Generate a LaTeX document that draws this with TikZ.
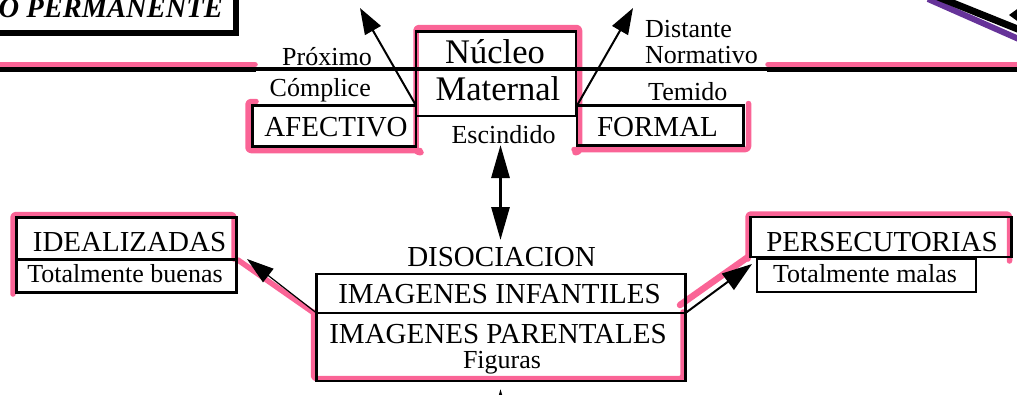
\documentclass[tikz,border=0pt]{standalone}
\usepackage{fontspec}
\setmainfont{Liberation Serif}
\usetikzlibrary{arrows.meta}
\definecolor{pinkhl}{RGB}{250,100,150}
\definecolor{purp}{RGB}{102,51,153}
\begin{document}
\begin{tikzpicture}[x=1pt,y=-1pt,
  box/.style={draw, line width=2.8pt, inner sep=0pt, outer sep=0pt},
  hl/.style={draw=pinkhl, line width=5.5pt, line cap=round, line join=round, rounded corners=3pt},
  lbl/.style={inner sep=0pt, anchor=base},
  fbig/.style={font=\fontsize{29}{30}\selectfont},
  fsmall/.style={font=\fontsize{26}{27}\selectfont},
  fhuge/.style={font=\fontsize{34.5}{36}\selectfont},
  arrT/.style={line width=2pt, -{Triangle[length=26pt,width=18pt]}},
]
\useasboundingbox (0,0) rectangle (1017,394);
\clip (0,0) rectangle (1017,394);

% pink highlights
\draw[hl] (-5,64.5) -- (255,64.5);
\draw[hl] (768,64.5) -- (1025,64.5);
\draw[hl] (421,152.5) -- (416,152.5) -- (416,27.5) -- (579.5,27.5) -- (579.5,152.5) -- (575,152.5);
\draw[hl] (256,101.5) -- (248,101.5) -- (248,150.5) -- (420,150.5);
\draw[hl] (574,149.5) -- (748.5,149.5) -- (748.5,103.5);
\draw[hl] (234,259) -- (234,214.5) -- (13,214.5) -- (13,294);
\draw[hl] (238,260) -- (314,313);
\draw[hl] (313.5,312) -- (313.5,378.5) -- (683,378.5) -- (683,312);
\draw[hl] (748,259) -- (748,214) -- (1009.5,214) -- (1009.5,261);
\draw[hl, line width=6.5pt] (680,305) -- (748,257);

% purple branch top right
\draw[purp, line width=6pt] (928,-1) -- (1030,44);
\draw[line width=7pt] (938,-3) -- (1030,34);
\fill (1009,15) -- (1020,7) -- (1020,23) -- cycle;

% main horizontal line
\draw[line width=5pt] (-5,69.5) -- (256,69.5);
\draw[line width=3.5pt] (254,69) -- (769,69);
\draw[line width=5pt] (767,69.5) -- (1025,69.5);

% top-left box
\node[box, minimum width=254.5pt, minimum height=51pt] (perm) at (107.25,5.5) {};
\draw[line width=3.5pt] (237,-10) -- (237,34) -- (-10,34);
\node[lbl, anchor=base east, font=\fontsize{28.5}{30}\selectfont\bfseries\itshape] (permtxt) at (223,17) {O PERMANENTE};

% boxes
\node[box, minimum width=160pt, minimum height=84.5pt] (nucleo) at (496,73.75) {};
\node[box, minimum width=163.5pt, minimum height=41pt] (afectivo) at (334.25,126) {};
\node[box, minimum width=166.5pt, minimum height=40pt] (formal) at (660.25,125.5) {};
\node[box, minimum width=220pt, minimum height=42pt] (ideal) at (126.5,238.5) {};
\node[box, minimum width=220pt, minimum height=33pt] (buenas) at (126.5,276) {};
\node[box, minimum width=261pt, minimum height=40pt] (persec) at (881,237) {};
\node[box, minimum width=219pt, minimum height=33pt] (malas) at (866.5,275.5) {};
\node[box, minimum width=369pt, minimum height=39pt] (infant) at (501,293.5) {};
\node[box, minimum width=369pt, minimum height=68pt] (parent) at (501,347) {};

% arrows
\coordinate (tlTip) at (360,8);
\coordinate (trTip) at (633,8);
\draw[arrT] (afectivo.north east) -- (tlTip);
\draw[arrT] (formal.north west) -- (trTip);
\coordinate (dTop) at (500.5,145);
\coordinate (dBot) at (500.5,240);
\draw[line width=3pt, {Triangle[length=33pt,width=18pt]}-{Triangle[length=33pt,width=18pt]}] (dTop) -- (dBot);
\coordinate (bFrom) at (500.5,460);
\coordinate (bTip) at (500.5,389);
\draw[line width=3pt, -{Triangle[length=33pt,width=18pt]}] (bFrom) -- (bTip);
\coordinate (lTip) at (247,259);
\draw[line width=1.2pt, -{Triangle[length=27pt,width=17pt]}] (infant.south west) -- (lTip);
\coordinate (rTip) at (752,264);
\draw[line width=2pt, -{Triangle[length=30pt,width=20pt]}] (infant.south east) -- (rTip);

% texts
\node[lbl, fsmall, anchor=base east] (proximo) at (372,65.5) {Próximo};
\node[lbl, fsmall, anchor=base east] (complice) at (371,96.5) {Cómplice};
\node[lbl, fsmall, anchor=base west] (distante) at (645,37) {Distante};
\node[lbl, fsmall, anchor=base west] (normativo) at (645,63) {Normativo};
\node[lbl, fsmall, anchor=base west] (temido) at (648,100) {Temido};
\node[lbl, fhuge] (nucleotxt) at (495,63) {Núcleo};
\node[lbl, fhuge] (maternaltxt) at (498,100) {Maternal};
\node[lbl, fbig] (afectxt) at (336,136.7) {AFECTIVO};
\node[lbl, fbig] (formaltxt) at (657.5,136) {FORMAL};
\node[lbl, fsmall] (escindido) at (503.5,143) {Escindido};
\node[lbl, fbig] (idealtxt) at (129.5,251) {IDEALIZADAS};
\node[lbl, fsmall] (buenastxt) at (125,282) {Totalmente buenas};
\node[lbl, fbig] (persectxt) at (882,251) {PERSECUTORIAS};
\node[lbl, fsmall] (malastxt) at (865,282) {Totalmente malas};
\node[lbl, fbig] (diso) at (501.5,266.7) {DISOCIACION};
\node[lbl, fbig] (infanttxt) at (499.5,303) {IMAGENES INFANTILES};
\node[lbl, fbig] (parenttxt) at (498,343) {IMAGENES PARENTALES};
\node[lbl, fsmall] (figuras) at (502,368) {Figuras};
\end{tikzpicture}
\end{document}
